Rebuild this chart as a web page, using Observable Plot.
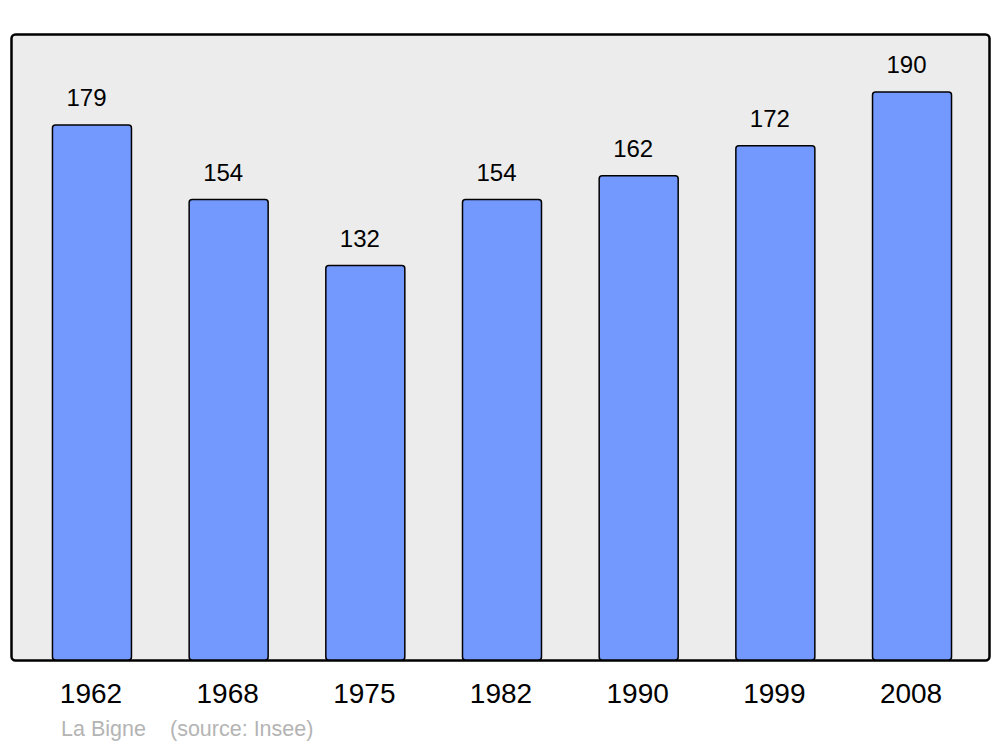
<!DOCTYPE html>
<html>
<head>
<meta charset="utf-8">
<script src="https://cdn.jsdelivr.net/npm/d3@7"></script>
<script src="https://cdn.jsdelivr.net/npm/@observablehq/plot@0.6"></script>
<style>
  html, body { margin: 0; padding: 0; background: #ffffff; }
  body { width: 1000px; height: 747px; overflow: hidden; font-family: "Liberation Sans", Arial, sans-serif; }
  .cap { position: absolute; top: 716px; font-size: 21.5px; color: #b4b4b4; white-space: pre; line-height: 26px; }
  #chart { position: absolute; left: 0; top: 0; }
</style>
</head>
<body>
<div id="chart"></div>
<div class="cap" style="left:61px">La Bigne</div>
<div class="cap" style="left:170px">(source: Insee)</div>
<script>
const years = ["1962", "1968", "1975", "1982", "1990", "1999", "2008"];
const population = [179, 154, 132, 154, 162, 172, 190];

const data = years.map((y, i) => ({year: y, pop: population[i]}));

const chart = Plot.plot({
  width: 1000,
  height: 712,
  marginLeft: 11,
  marginRight: 11,
  marginTop: 34,
  marginBottom: 52,
  style: {fontFamily: "'Liberation Sans', Arial, sans-serif", background: "transparent"},
  x: {domain: years, range: [18.3, 985.7], paddingInner: 0.422, paddingOuter: 0.25, round: false, label: null},
  y: {domain: [0, 209.4], axis: null},
  marks: [
    Plot.frame({fill: "#ececec", stroke: "#000", strokeWidth: 2.5, rx: 4}),
    Plot.barY(data, {x: "year", y: "pop", fill: "#7399ff", stroke: "#000", strokeWidth: 1.5, rx: 3}),
    Plot.text(data, {x: "year", y: "pop", text: d => String(d.pop), lineAnchor: "bottom", dy: -19, dx: -6, fontSize: 24, fill: "#000"}),
    Plot.axisX({tickSize: 0, tickPadding: 23, dx: -1.5, fontSize: 28, fill: "#000", label: null})
  ]
});
document.getElementById("chart").appendChild(chart);
</script>
</body>
</html>
